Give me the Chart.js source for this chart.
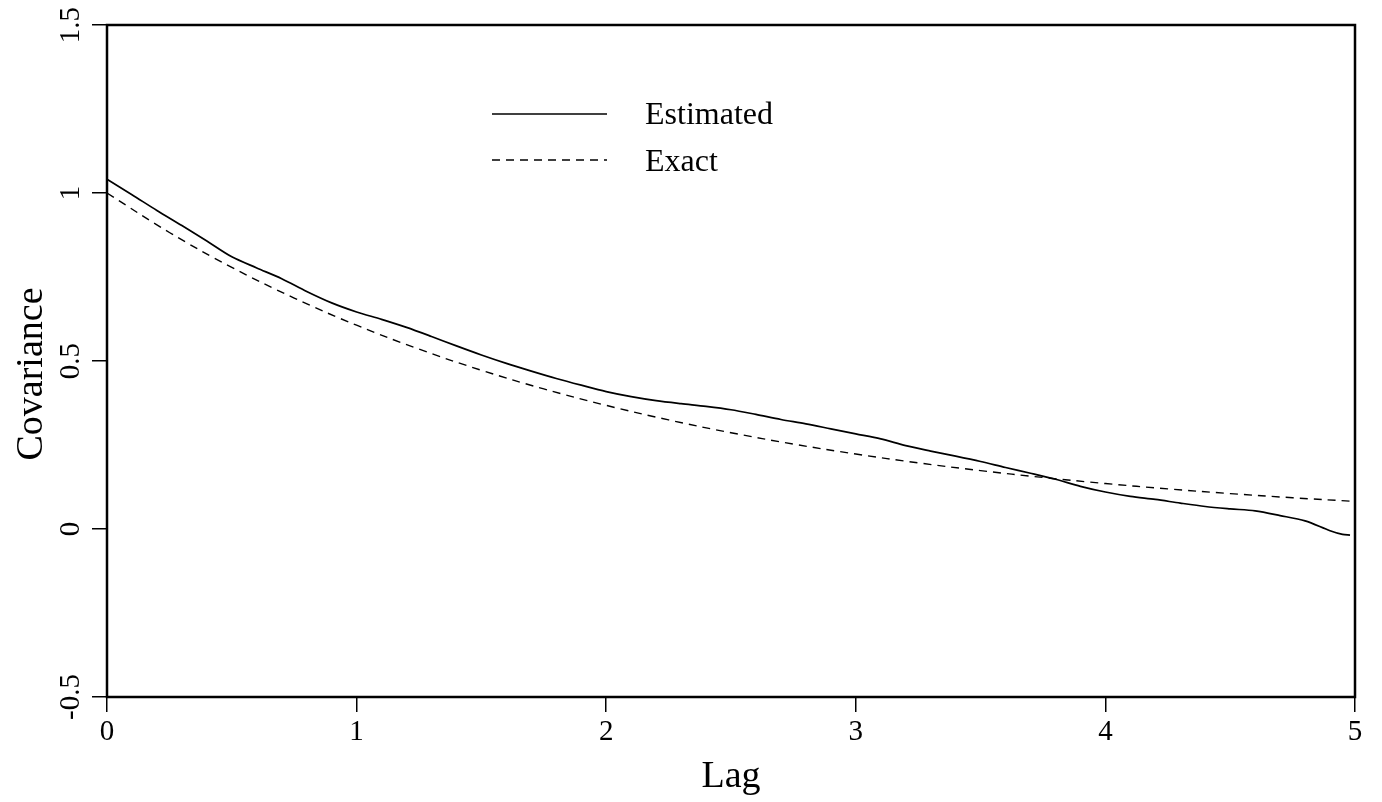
<!DOCTYPE html>
<html>
<head>
<meta charset="utf-8">
<script src="https://cdn.jsdelivr.net/npm/chart.js@4/dist/chart.umd.min.js"></script>
<style>
  html, body { margin: 0; padding: 0; background: #fff; }
  #wrap { width: 1382px; height: 802px; }
</style>
</head>
<body>
<div id="wrap"><canvas id="c"></canvas></div>
<script>
// ---- data ----
const estLags = [0, 0.1, 0.2, 0.3, 0.4, 0.5, 0.6, 0.7, 0.8, 0.9, 1.0, 1.1, 1.2, 1.3, 1.4, 1.5, 1.6, 1.7, 1.8, 1.9, 2.0, 2.1, 2.2, 2.3, 2.4, 2.5, 2.6, 2.7, 2.8, 2.9, 3.0, 3.1, 3.2, 3.3, 3.4, 3.5, 3.6, 3.7, 3.8, 3.9, 4.0, 4.1, 4.2, 4.3, 4.4, 4.5, 4.6, 4.7, 4.8, 4.9, 4.95, 4.98];
const estimated = [1.041, 0.995, 0.948, 0.903, 0.857, 0.810, 0.777, 0.745, 0.707, 0.673, 0.646, 0.624, 0.600, 0.573, 0.545, 0.518, 0.493, 0.470, 0.448, 0.428, 0.409, 0.394, 0.382, 0.373, 0.365, 0.355, 0.341, 0.326, 0.313, 0.298, 0.283, 0.268, 0.248, 0.232, 0.217, 0.201, 0.183, 0.166, 0.148, 0.127, 0.110, 0.097, 0.088, 0.077, 0.067, 0.060, 0.054, 0.040, 0.024, -0.005, -0.016, -0.018];
const exactLags = [0, 0.25, 0.5, 0.75, 1.0, 1.25, 1.5, 1.75, 2.0, 2.25, 2.5, 2.75, 3.0, 3.25, 3.5, 3.75, 4.0, 4.25, 4.5, 4.75, 5.0];
const exact = [1.0, 0.8825, 0.7788, 0.6873, 0.6065, 0.5353, 0.4724, 0.4169, 0.3679, 0.3247, 0.2865, 0.2528, 0.2231, 0.1969, 0.1738, 0.1534, 0.1353, 0.1194, 0.1054, 0.0930, 0.0821];
const xTicks = [0, 1, 2, 3, 4, 5];
const yTicks = [-0.5, 0, 0.5, 1, 1.5];
const seriesNames = ['Estimated', 'Exact'];
const xTitle = 'Lag';
const yTitle = 'Covariance';

const FONT = '"Liberation Serif", "Times New Roman", serif';

const pts = (xs, ys) => xs.map((x, i) => ({ x: x, y: ys[i] }));

const textPlugin = {
  id: 'textPlugin',
  afterDraw(chart) {
    const ctx = chart.ctx;
    const xs = chart.scales.x, ys = chart.scales.y;
    const a = chart.chartArea;
    ctx.save();
    // frame
    ctx.strokeStyle = '#000';
    ctx.lineWidth = 2.5;
    ctx.strokeRect(a.left, a.top, a.right - a.left, a.bottom - a.top);
    ctx.fillStyle = '#000';
    // x tick labels
    ctx.font = '29px ' + FONT;
    ctx.textAlign = 'center';
    ctx.textBaseline = 'alphabetic';
    xTicks.forEach(v => ctx.fillText(String(v), xs.getPixelForValue(v), 740));
    // y tick labels (rotated)
    yTicks.forEach(v => {
      ctx.save();
      ctx.translate(79, ys.getPixelForValue(v));
      ctx.rotate(-Math.PI / 2);
      ctx.fillText(String(v), 0, 0);
      ctx.restore();
    });
    // axis titles
    ctx.font = '38px ' + FONT;
    ctx.fillText(xTitle, (a.left + a.right) / 2, 787);
    ctx.save();
    ctx.translate(42, 374);
    ctx.rotate(-Math.PI / 2);
    ctx.fillText(yTitle, 0, 0);
    ctx.restore();
    // legend
    ctx.lineWidth = 1.6;
    ctx.beginPath(); ctx.moveTo(492, 114); ctx.lineTo(607, 114); ctx.stroke();
    ctx.lineWidth = 1.4;
    ctx.setLineDash([8, 6]);
    ctx.beginPath(); ctx.moveTo(492, 160); ctx.lineTo(607, 160); ctx.stroke();
    ctx.setLineDash([]);
    ctx.font = '32px ' + FONT;
    ctx.textAlign = 'left';
    ctx.fillText(seriesNames[0], 645, 124);
    ctx.fillText(seriesNames[1], 645, 171);
    ctx.restore();
  }
};

new Chart(document.getElementById('c'), {
  type: 'line',
  data: {
    datasets: [
      { label: seriesNames[0], data: pts(estLags, estimated), borderColor: '#000', borderWidth: 1.7, pointRadius: 0, tension: 0.3, fill: false },
      { label: seriesNames[1], data: pts(exactLags, exact), borderColor: '#000', borderWidth: 1.4, borderDash: [8, 6], pointRadius: 0, tension: 0.4, fill: false }
    ]
  },
  options: {
    responsive: true,
    maintainAspectRatio: false,
    animation: false,
    devicePixelRatio: 1,
    layout: { padding: { left: 0, top: 25, right: 27, bottom: 0 } },
    plugins: { legend: { display: false }, tooltip: { enabled: false } },
    scales: {
      x: {
        type: 'linear', min: 0, max: 5,
        afterBuildTicks: s => { s.ticks = xTicks.map(v => ({ value: v })); },
        afterFit: s => { s.height = 105; },
        ticks: { display: false },
        grid: { drawOnChartArea: false, drawTicks: true, tickLength: 15, color: '#000', lineWidth: 1.5 },
        border: { display: false }
      },
      y: {
        type: 'linear', min: -0.5, max: 1.5,
        afterBuildTicks: s => { s.ticks = yTicks.map(v => ({ value: v })); },
        afterFit: s => { s.width = 107; },
        ticks: { display: false },
        grid: { drawOnChartArea: false, drawTicks: true, tickLength: 15, color: '#000', lineWidth: 1.5 },
        border: { display: false }
      }
    }
  },
  plugins: [textPlugin]
});
</script>
</body>
</html>
